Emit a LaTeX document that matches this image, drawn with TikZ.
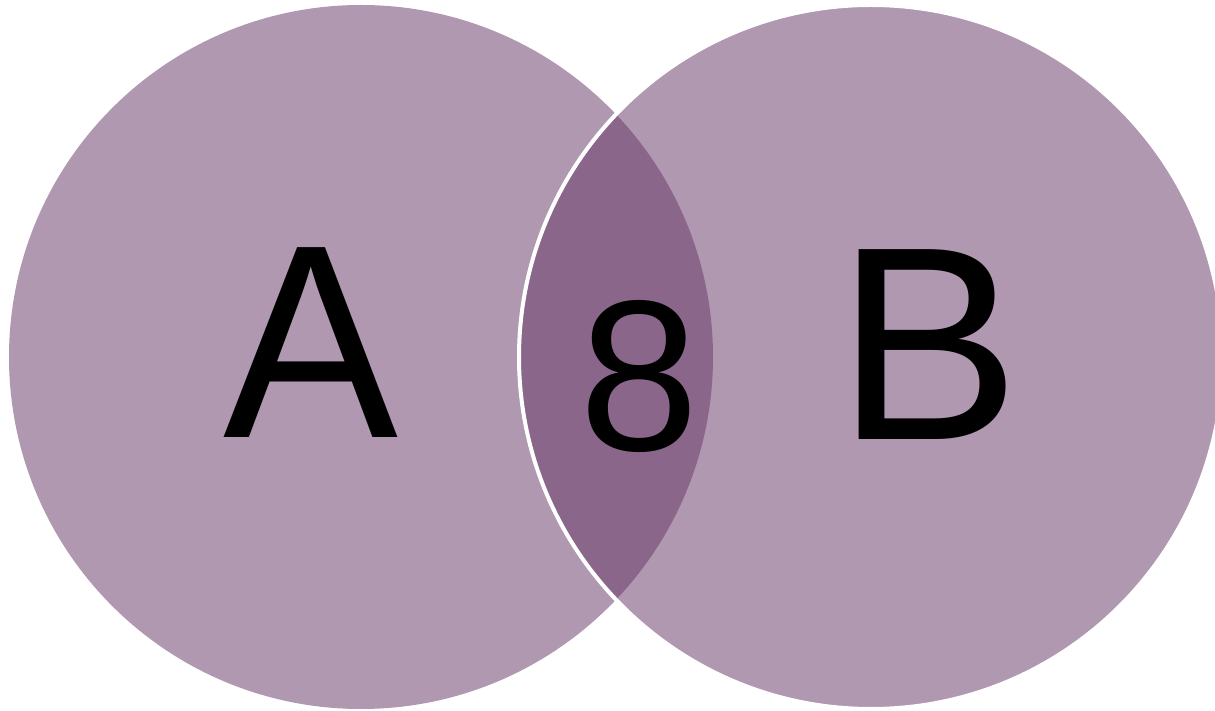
\documentclass[tikz,border=0pt]{standalone}
\usepackage{fontspec}
\setmainfont{Liberation Sans}
\definecolor{setfill}{RGB}{176,152,176}
\definecolor{lensfill}{RGB}{139,102,139}
\begin{document}
\begin{tikzpicture}[x=1pt,y=1pt,
  setcircle/.style={circle, fill=setfill, minimum size=704pt, inner sep=0pt},
  biglabel/.style={inner sep=0pt, anchor=base, font=\fontsize{276}{276}\selectfont},
  lenslabel/.style={inner sep=0pt, anchor=base, font=\fontsize{215}{215}\selectfont}]
\useasboundingbox (0,0) rectangle (1215,710);
\node[setcircle] (setA) at (361,353) {};
\node[setcircle] (setB) at (871,353) {};
\begin{scope}
  \clip (871,353) circle (352);
  \fill[lensfill] (361,353) circle (352);
\end{scope}
\draw[white, line width=4pt] (871,353) circle (352);
\node[biglabel, xscale=0.95] (labA) at (311,272) {A};
\node[biglabel] (labB) at (929,270) {B};
\node[lenslabel] (lab8) at (639,259) {8};
\end{tikzpicture}
\end{document}
